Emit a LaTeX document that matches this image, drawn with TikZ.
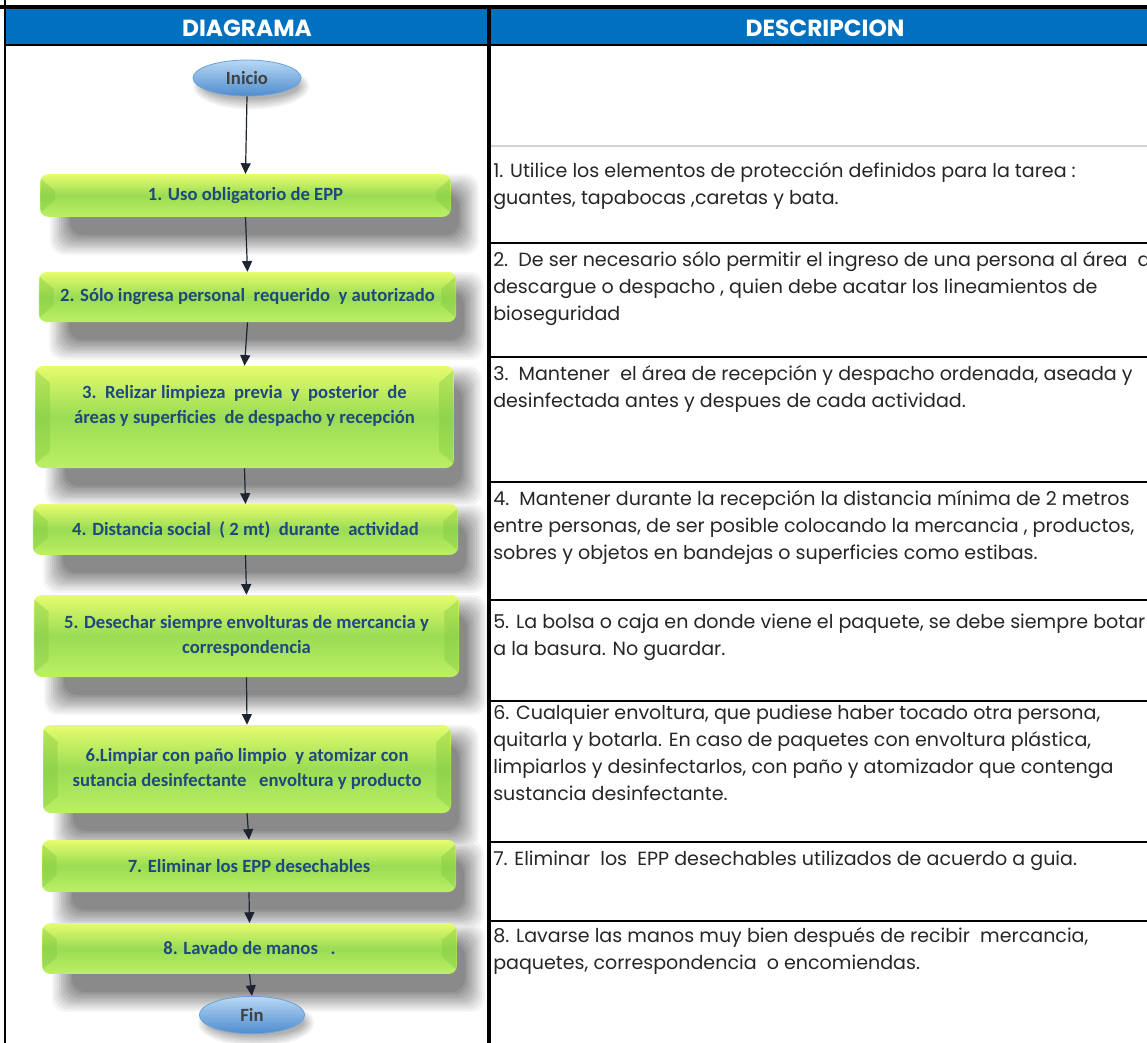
\documentclass[tikz,border=0pt]{standalone}
\usepackage{fontspec}
\setmainfont{Poppins}
\newfontfamily\calfont{Carlito}
\usetikzlibrary{arrows.meta,calc,positioning,shapes.geometric}
\definecolor{chead}{HTML}{0070C0}
\definecolor{cboxtxt}{HTML}{1F497D}
\definecolor{cink}{HTML}{262626}
\definecolor{cgreentop}{HTML}{E6FC6E}
\definecolor{cgreenmid}{HTML}{9ADC54}
\definecolor{cgreenbot}{HTML}{BCF064}
\definecolor{cbevel}{HTML}{80C940}
\definecolor{cbluetop}{HTML}{B8D8F4}
\definecolor{cbluebot}{HTML}{4E8CCF}
\definecolor{cblueline}{HTML}{6AA2D8}
\definecolor{carrow}{HTML}{1E2430}
\definecolor{crule}{HTML}{D4D4D4}

\begin{document}
\begin{tikzpicture}[
    x=0.75pt, y=-0.75pt,
    >={Triangle[width=7.5pt,length=8pt]},
    stepbox/.style={rounded corners=6pt, inner sep=0pt, align=center,
      text=cboxtxt, font=\calfont\bfseries\fontsize{14}{18.75}\selectfont,
      top color=cgreentop, bottom color=cgreenbot, middle color=cgreenmid},
    termnode/.style={ellipse, inner sep=0pt, draw=cblueline, line width=0.6pt,
      top color=cbluetop, bottom color=cbluebot,
      text=black!75, font=\calfont\bfseries\fontsize{14}{16}\selectfont,
      minimum width=81pt, minimum height=27pt},
    bevel/.style={fill=cbevel, opacity=0.4},
    conn/.style={->, draw=carrow, line width=0.9pt},
    hdr/.style={text=white, font=\bfseries\fontsize{17.5}{20}\selectfont},
    desc/.style={anchor=north west, inner sep=0pt, align=left, text=cink,
      font=\fontsize{14.3}{20.25}\selectfont},
  ]
  \useasboundingbox (0,0) rectangle (1147,1043);
  \clip (0,0) rectangle (1147,1043);
  \fill[white] (0,0) rectangle (1147,1043);

  % header band
  \fill[chead] (5,9) rectangle (1147,44);
  \node[hdr] (hdiag) at (247,28) {DIAGRAMA};
  \node[hdr] (hdesc) at (825,28) {DESCRIPCION};

  % soft shadows, light rings first (centre x/centre y/half width/half height)
  \foreach \k in {9,8,...,0} {
    \pgfmathtruncatemacro{\shd}{4.6*(10-\k)}
    \foreach \bx/\by/\bw/\bh in {245.5/195.5/205.5/21.5,247.5/297/208.5/25,244.5/417/209.5/51,245.5/529.5/212.5/25.5,246.5/636/212.5/41,247/769/204/44,249/866/207/26,249.5/948.5/207.5/25.5} {
      \fill[black!\shd, rounded corners=10pt]
        ({\bx-\bw+30-2.2*\k},{\by-\bh+20-2.2*\k})
        rectangle ({\bx+\bw+8+2.2*\k},{\by+\bh+18+2.2*\k});
    }
  }
  \foreach \k in {5,4,...,0} {
    \pgfmathtruncatemacro{\shd}{5*(6-\k)}
    \foreach \bx/\by in {247/78,252/1015} {
      \fill[black!\shd] ({\bx+4},{\by+8})
        ellipse [x radius={36pt+1.5pt*\k}, y radius={10pt+1.5pt*\k}];
    }
  }

  % flow
  \node[termnode] (start) at (247,78) {Inicio};
  \node[stepbox, minimum width=308pt, minimum height=32pt] (b1) at (245.5,195.5)
    {1. Uso obligatorio de EPP};
  \node[stepbox, minimum width=313pt, minimum height=37.5pt] (b2) at (247.5,297)
    {2. Sólo ingresa personal\ \ requerido\ \ y autorizado};
  \node[stepbox, minimum width=314pt, minimum height=76.5pt] (b3) at (244.5,417)
    {3.\ \ Relizar limpieza\ \ previa\ \ y\ \ posterior\ \ de\\
     áreas y superficies\ \ de despacho y recepción\\ \mbox{}};
  \node[stepbox, minimum width=319pt, minimum height=38pt] (b4) at (245.5,529.5)
    {4. Distancia social\ \ ( 2 mt)\ \ durante\ \ actividad};
  \node[stepbox, minimum width=319pt, minimum height=61.5pt] (b5) at (246.5,636)
    {5. Desechar siempre envolturas\ de mercancia y\\ correspondencia};
  \node[stepbox, minimum width=306pt, minimum height=66pt] (b6) at (247,769)
    {6.Limpiar con\ paño\ limpio\ \ y atomizar con\\
     sutancia desinfectante\ \ \ envoltura\ y producto};
  \node[stepbox, minimum width=310.5pt, minimum height=39pt] (b7) at (249,866)
    {7. Eliminar los EPP desechables};
  \node[stepbox, minimum width=311pt, minimum height=38pt] (b8) at (249.5,948.5)
    {8. Lavado de manos\ \ \ .};
  \node[termnode, minimum width=79pt, minimum height=28pt] (end) at (252,1015) {Fin};

  % side bevels of the boxes
  \foreach \b in {b1,b2,b3,b4,b5,b6,b7,b8} {
    \fill[bevel] ($(\b.north west)+(1,5)$) -- ($(\b.north west)+(15,17)$)
      -- ($(\b.south west)+(15,-17)$) -- ($(\b.south west)+(1,-5)$) -- cycle;
    \fill[bevel] ($(\b.north east)+(-1,5)$) -- ($(\b.north east)+(-15,17)$)
      -- ($(\b.south east)+(-15,-17)$) -- ($(\b.south east)+(-1,-5)$) -- cycle;
  }

  \draw[conn] (start.south) -- (b1.north);
  \draw[conn] (b1.south) -- (b2.north);
  \draw[conn] (b2.south) -- (b3.north);
  \draw[conn] (b3.south) -- (b4.north);
  \draw[conn] (b4.south) -- (b5.north);
  \draw[conn] (b5.south) -- (b6.north);
  \draw[conn] (b6.south) -- (b7.north);
  \draw[conn] (b7.south) -- (b8.north);
  \draw[conn] (b8.south) -- (end.north);

  % description rows
  \fill[white] (490,46) rectangle (1147,1043);
  \draw[crule, line width=1.5pt] (490,146) -- (1147,146);
  \foreach \yy in {243,357,482,600,701,842,921}
    \draw[black, line width=2pt] (490,\yy) -- (1147,\yy);

  \node[desc] (d1) at (493,162)
    {1. Utilice los elementos de protección definidos para la tarea :\\
     guantes, tapabocas ,caretas y bata.};
  \node[desc] (d2) at (493,251)
    {2.\ \ De ser necesario sólo permitir el ingreso de una persona al área\ \ de\\
     descargue o despacho , quien debe acatar los lineamientos de\\
     bioseguridad};
  \node[desc] (d3) at (493,365)
    {3.\ \ Mantener\ \ el área de recepción y despacho ordenada, aseada y\\
     desinfectada antes y despues de cada actividad.};
  \node[desc] (d4) at (493,490)
    {4.\ \ Mantener durante la recepción la distancia mínima de 2 metros\\
     entre personas, de ser posible colocando la mercancia , productos,\\
     sobres y objetos en bandejas o superficies como estibas.};
  \node[desc] (d5) at (493,614)
    {5. La bolsa o caja en donde viene el paquete, se debe siempre botar\\
     a la basura. No guardar.};
  \node[desc] (d6) at (493,705)
    {6. Cualquier envoltura, que pudiese haber tocado otra persona,\\
     quitarla y botarla. En caso de paquetes con envoltura plástica,\\
     limpiarlos y desinfectarlos, con paño y atomizador que contenga\\
     sustancia desinfectante.};
  \node[desc] (d7) at (493,851)
    {7. Eliminar\ \ los\ \ EPP desechables utilizados de acuerdo a guia.};
  \node[desc] (d8) at (493,927)
    {8. Lavarse las manos muy bien después de recibir\ \ mercancia,\\
     paquetes, correspondencia\ \ o encomiendas.};

  % frame
  \draw[black, line width=2.5pt] (0,7) -- (1147,7);
  \draw[black, line width=2.2pt] (5,45) -- (1147,45);
  \draw[black, line width=1.5pt] (5,0) -- (5,1043);
  \draw[black, line width=3pt] (489,8) -- (489,1043);
\end{tikzpicture}
\end{document}
